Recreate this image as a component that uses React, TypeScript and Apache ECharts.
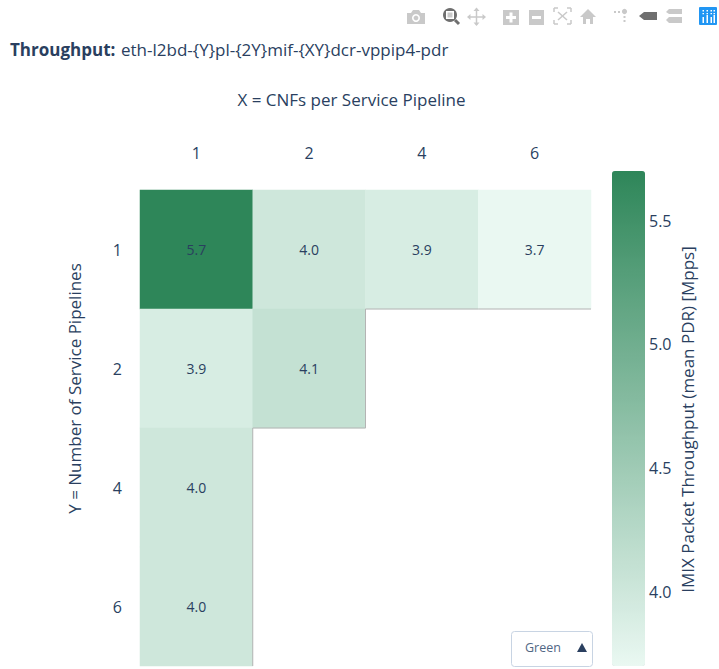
import React, { useEffect, useRef } from "react";
import * as echarts from "echarts";

const FONT = '"Open Sans", "Noto Sans", sans-serif';
const INK = "#2a3f5f";

const xCategories = ["1", "2", "4", "6"];
const yCategories = ["1", "2", "4", "6"];
const cells: [number, number, number][] = [
  [0, 0, 5.7],
  [1, 0, 4.0],
  [2, 0, 3.9],
  [3, 0, 3.7],
  [0, 1, 3.9],
  [1, 1, 4.1],
  [0, 2, 4.0],
  [0, 3, 4.0],
];
const scaleMin = 3.7;
const scaleMax = 5.7;
const scaleTicks = [4.0, 4.5, 5.0, 5.5];
const scaleColors = ["#eaf8f2", "#2e8659"];
// cell edges that border an empty cell: [column, row, side]
const edges: [number, number, number][] = [
  [2, 0, 0],
  [3, 0, 0],
  [1, 1, 0],
  [1, 1, 1],
  [0, 2, 1],
  [0, 3, 1],
];

const GRAY = "#c9c9c9";
const DARK = "#6f6f6f";

function toolbar(): any[] {
  const rect = (x: number, y: number, width: number, height: number, fill: string, r = 0) => ({
    type: "rect",
    silent: true,
    shape: { x, y, width, height, r },
    style: { fill },
  });
  const circle = (cx: number, cy: number, r: number, fill: string) => ({
    type: "circle",
    silent: true,
    shape: { cx, cy, r },
    style: { fill },
  });
  const poly = (points: number[][], fill: string) => ({
    type: "polygon",
    silent: true,
    shape: { points },
    style: { fill },
  });
  const line = (x1: number, y1: number, x2: number, y2: number, stroke: string, lineWidth = 1.5) => ({
    type: "line",
    silent: true,
    shape: { x1, y1, x2, y2 },
    style: { stroke, lineWidth },
  });
  const els: any[] = [
    // camera
    poly([[407, 13], [411, 13], [413, 10], [419, 10], [421, 13], [425, 13], [425, 24], [407, 24]], GRAY),
    circle(416, 18, 4, "#fff"),
    circle(416, 18, 2.4, GRAY),
    // zoom
    circle(450, 15, 7, DARK),
    rect(446, 11, 8, 8, "#fff"),
    rect(447.5, 12.5, 5, 5, "#c9c9c9"),
    line(455, 20, 459, 24, DARK, 3),
    // pan
    line(476.5, 9, 476.5, 25, GRAY, 1.5),
    line(468, 17, 485, 17, GRAY, 1.5),
    poly([[476.5, 7.5], [479.5, 11], [473.5, 11]], GRAY),
    poly([[476.5, 26], [479.5, 22.5], [473.5, 22.5]], GRAY),
    poly([[467, 17], [470.5, 14], [470.5, 20]], GRAY),
    poly([[486, 17], [482.5, 14], [482.5, 20]], GRAY),
    // zoom in
    rect(503, 10, 16, 15, GRAY),
    rect(506, 16, 10, 3, "#fff"),
    rect(509.5, 12.5, 3, 10, "#fff"),
    // zoom out
    rect(529, 10, 15, 15, GRAY),
    rect(532, 16, 9, 3, "#fff"),
    // autoscale
    line(554, 8, 558, 8, GRAY), line(554, 8, 554, 12, GRAY),
    line(567, 8, 571, 8, GRAY), line(571, 8, 571, 12, GRAY),
    line(554, 24, 558, 24, GRAY), line(554, 24, 554, 20, GRAY),
    line(567, 24, 571, 24, GRAY), line(571, 24, 571, 20, GRAY),
    line(558, 12, 567, 20, GRAY), line(567, 12, 558, 20, GRAY),
    // home
    poly([[588, 9], [596, 17], [593, 17], [593, 24], [590, 24], [590, 19], [586, 19], [586, 24], [583, 24], [583, 17], [580, 17]], GRAY),
    // spikes
    rect(614, 11, 2, 2, GRAY),
    rect(618, 11, 2, 2, GRAY),
    circle(624.5, 11.5, 2.6, GRAY),
    rect(623.5, 16, 2, 2, GRAY),
    rect(623.5, 20, 2, 2, GRAY),
    // closest
    poly([[639, 16], [644, 12], [657, 12], [657, 20], [644, 20]], DARK),
    // compare
    poly([[666, 12], [669, 9], [682, 9], [682, 14], [669, 14]], GRAY),
    poly([[666, 20], [669, 17], [682, 17], [682, 23], [669, 23]], GRAY),
    // plotly logo tile
    rect(699, 7, 18, 18, "#2196f3", 1),
  ];
  [702.5, 706.5, 710.5, 713.5].forEach((x, i) => {
    els.push(rect(x, i % 2 ? 15 : 17, 1.5, i % 2 ? 8 : 6, "#fff"));
    els.push(rect(x, 10, 1.5, 1.5, "#fff"));
    els.push(rect(x, 13, 1.5, 1.2, "#fff"));
  });
  return els;
}

export default function App() {
  const ref = useRef<HTMLDivElement>(null);

  useEffect(() => {
    document.body.style.margin = "0";
    const chart = echarts.init(ref.current!, undefined, { renderer: "svg" });
    chart.setOption({
      animation: false,
      backgroundColor: "#fff",
      textStyle: { fontFamily: FONT, color: INK },
      grid: [
        { left: 140, top: 190, width: 451, height: 476 },
        { left: 612, top: 171, width: 33, height: 495 },
      ],
      xAxis: [
        {
          type: "category",
          gridIndex: 0,
          position: "top",
          data: xCategories,
          name: "X = CNFs per Service Pipeline",
          nameLocation: "middle",
          nameGap: 82,
          nameTextStyle: { fontSize: 17, color: INK, fontFamily: FONT, padding: [0, 28, 0, 0] },
          axisLine: { show: false },
          axisTick: { show: false },
          splitLine: { show: false },
          axisLabel: { fontSize: 16, color: INK, fontFamily: FONT, margin: 29 },
        },
        { type: "value", gridIndex: 1, show: false, min: 0, max: 1 },
      ],
      yAxis: [
        {
          type: "category",
          gridIndex: 0,
          inverse: true,
          data: yCategories,
          name: "Y = Number of Service Pipelines",
          nameLocation: "middle",
          nameGap: 57,
          nameRotate: 90,
          nameTextStyle: { fontSize: 17, color: INK, fontFamily: FONT, padding: [0, 0, 0, 79] },
          axisLine: { show: false },
          axisTick: { show: false },
          splitLine: { show: false },
          axisLabel: { fontSize: 16, color: INK, fontFamily: FONT, margin: 18 },
        },
        {
          type: "value",
          gridIndex: 1,
          position: "right",
          min: scaleMin,
          max: scaleMax,
          name: "IMIX Packet Throughput (mean PDR) [Mpps]",
          nameLocation: "middle",
          nameGap: 34,
          nameRotate: 90,
          nameTextStyle: { fontSize: 17, color: INK, fontFamily: FONT, padding: [0, 2, 0, 0] },
          axisLine: { show: false },
          axisTick: { show: false, customValues: scaleTicks },
          splitLine: { show: false },
          axisLabel: {
            fontSize: 16,
            color: INK,
            fontFamily: FONT,
            margin: 4,
            customValues: scaleTicks,
            formatter: (v: number) => v.toFixed(1),
          },
        },
      ],
      visualMap: {
        type: "continuous",
        min: scaleMin,
        max: scaleMax,
        seriesIndex: 0,
        dimension: 2,
        left: 612,
        top: 171,
        itemWidth: 33,
        itemHeight: 495,
        padding: 0,
        text: [],
        showLabel: false,
        calculable: false,
        hoverLink: false,
        inRange: { color: scaleColors },
      },
      series: [
        {
          type: "heatmap",
          xAxisIndex: 0,
          yAxisIndex: 0,
          data: cells,
          itemStyle: { borderWidth: 0 },
          label: {
            show: true,
            fontSize: 14,
            fontFamily: FONT,
            color: INK,
            formatter: (p: any) => p.value[2].toFixed(1),
          },
        },
        {
          type: "custom",
          xAxisIndex: 0,
          yAxisIndex: 0,
          data: edges,
          silent: true,
          z: 5,
          renderItem: (_: any, api: any) => {
            const c = api.coord([api.value(0), api.value(1)]);
            const s = api.size([1, 1]);
            const l = c[0] - s[0] / 2;
            const r = c[0] + s[0] / 2;
            const t = c[1] - s[1] / 2;
            const b = c[1] + s[1] / 2;
            const shape =
              api.value(2) === 0
                ? { x1: l, y1: b, x2: r, y2: b }
                : { x1: r, y1: t, x2: r, y2: b };
            return { type: "line", shape, style: { stroke: "#b4b4b4", lineWidth: 1 } };
          },
        },
      ],
      graphic: [
        ...toolbar(),
        {
          type: "text",
          silent: true,
          x: 10,
          y: 49,
          style: {
            text: "Throughput:",
            fontFamily: FONT,
            fontSize: 17,
            fontWeight: 700,
            fill: INK,
            verticalAlign: "middle",
          },
        },
        {
          type: "text",
          silent: true,
          x: 121,
          y: 49,
          style: {
            text: "eth-l2bd-{Y}pl-{2Y}mif-{XY}dcr-vppip4-pdr",
            fontFamily: FONT,
            fontSize: 17,
            fill: INK,
            verticalAlign: "middle",
          },
        },
        {
          type: "rect",
          silent: true,
          shape: { x: 511.5, y: 631.5, width: 81, height: 35, r: 3 },
          style: { fill: "#fff", stroke: "#c8d4e3", lineWidth: 1 },
        },
        {
          type: "text",
          silent: true,
          x: 525,
          y: 647,
          style: { text: "Green", fontFamily: FONT, fontSize: 12.5, fill: "#506784", verticalAlign: "middle" },
        },
        {
          type: "polygon",
          silent: true,
          shape: { points: [[582, 643], [587, 652], [577, 652]] },
          style: { fill: INK },
        },
      ],
    });
    return () => chart.dispose();
  }, []);

  return <div ref={ref} style={{ width: 719, height: 669, display: "block", overflow: "hidden" }} />;
}
